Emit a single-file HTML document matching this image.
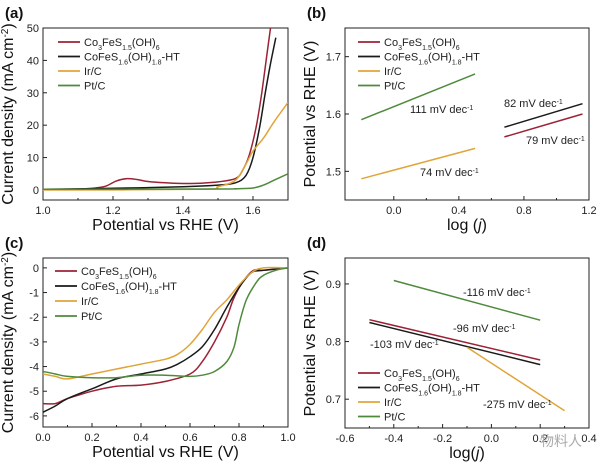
<!DOCTYPE html>
<html><head><meta charset="utf-8">
<style>
html,body{margin:0;padding:0;background:#fff;}
svg{display:block;font-family:"Liberation Sans","Noto Sans CJK SC",sans-serif;}
</style></head>
<body>
<svg id="fig" width="600" height="466" viewBox="0 0 600 466"></svg>
<script>
const seriesNames = ["Co3FeS1.5(OH)6","CoFeS1.6(OH)1.8-HT","Ir/C","Pt/C"];
const seriesColors = ["#9b2335","#1a1a1a","#e0a53a","#4f8a3c"];
// panel a: OER polarization
const aRedX=[1.0,1.1,1.15,1.18,1.21,1.24,1.27,1.3,1.35,1.4,1.45,1.5,1.55,1.57,1.59,1.61,1.625,1.64,1.65];
const aRedY=[0.2,0.3,0.6,1.2,2.8,3.5,3.2,2.6,2.2,2.0,2.1,2.5,3.5,6,11,20,30,42,50];
const aBlkX=[1.0,1.2,1.4,1.5,1.55,1.58,1.6,1.62,1.635,1.65,1.665];
const aBlkY=[0.2,0.5,1.0,1.5,2.2,4.5,10,20,30,39,47];
const aIrX=[1.0,1.45,1.5,1.55,1.58,1.6,1.63,1.66,1.7];
const aIrY=[0,0.2,1,3,8,12,16,21,27];
const aPtX=[1.0,1.5,1.55,1.6,1.63,1.66,1.7];
const aPtY=[0.2,0.3,0.4,0.6,1.5,3,5];
const aXTicks=[1.0,1.2,1.4,1.6];
const aYTicks=[0,10,20,30,40,50];
// panel b: OER Tafel
const bRedX=[0.68,1.16], bRedY=[1.56,1.60];
const bBlkX=[0.68,1.16], bBlkY=[1.577,1.618];
const bIrX=[-0.2,0.5], bIrY=[1.487,1.54];
const bPtX=[-0.2,0.5], bPtY=[1.59,1.67];
const bXTicks=[0.0,0.4,0.8,1.2];
const bYTicks=[1.5,1.6,1.7];
const bAnnot=["111 mV dec","82 mV dec","79 mV dec","74 mV dec"];
// panel c: ORR polarization
const cRedX=[0,0.05,0.1,0.2,0.3,0.4,0.5,0.6,0.65,0.7,0.75,0.78,0.82,0.86,0.9,1.0];
const cRedY=[-5.5,-5.5,-5.3,-5.0,-4.8,-4.75,-4.6,-4.3,-3.8,-3.0,-2.0,-1.2,-0.5,-0.1,-0.1,0];
const cBlkX=[0,0.05,0.1,0.2,0.3,0.4,0.5,0.55,0.6,0.65,0.7,0.75,0.8,0.85,0.9,1.0];
const cBlkY=[-5.85,-5.6,-5.3,-4.9,-4.5,-4.3,-4.1,-3.9,-3.6,-3.2,-2.5,-1.6,-0.8,-0.2,-0.1,0];
const cIrX=[0,0.05,0.1,0.2,0.3,0.4,0.5,0.55,0.6,0.65,0.7,0.75,0.8,0.85,0.9,1.0];
const cIrY=[-4.3,-4.4,-4.5,-4.3,-4.1,-3.9,-3.7,-3.5,-3.1,-2.5,-1.8,-1.3,-0.7,-0.2,0,0];
const cPtX=[0,0.05,0.1,0.2,0.3,0.4,0.5,0.6,0.65,0.7,0.75,0.78,0.8,0.83,0.87,0.9,0.95,1.0];
const cPtY=[-4.2,-4.3,-4.4,-4.45,-4.45,-4.35,-4.35,-4.4,-4.35,-4.2,-3.8,-3.2,-2.3,-1.3,-0.6,-0.3,-0.1,0];
const cXTicks=[0.0,0.2,0.4,0.6,0.8,1.0];
const cYTicks=[0,-1,-2,-3,-4,-5,-6];
// panel d: ORR Tafel
const dRedX=[-0.5,0.2], dRedY=[0.838,0.768];
const dBlkX=[-0.5,0.2], dBlkY=[0.833,0.760];
const dIrX=[-0.1,0.3], dIrY=[0.79,0.68];
const dPtX=[-0.4,0.2], dPtY=[0.906,0.837];
const dXTicks=[-0.6,-0.4,-0.2,0.0,0.2,0.4];
const dYTicks=[0.7,0.8,0.9];
const dAnnot=["-116 mV dec","-96 mV dec","-103 mV dec","-275 mV dec"];

const NS="http://www.w3.org/2000/svg";
const svg=document.getElementById('fig');
function mk(tag,attrs,parent,text){const e=document.createElementNS(NS,tag);for(const k in attrs)e.setAttribute(k,attrs[k]);if(text!==undefined)e.textContent=text;(parent||svg).appendChild(e);return e;}

function smoothPath(pts){
  if(pts.length<3) return pts.map((p,j)=>(j?'L':'M')+p[0].toFixed(1)+','+p[1].toFixed(1)).join(' ');
  let d='M'+pts[0][0].toFixed(1)+','+pts[0][1].toFixed(1);
  for(let i=0;i<pts.length-1;i++){
    const p0=pts[Math.max(0,i-1)],p1=pts[i],p2=pts[i+1],p3=pts[Math.min(pts.length-1,i+2)];
    const c1=[p1[0]+(p2[0]-p0[0])/6,p1[1]+(p2[1]-p0[1])/6];
    const c2=[p2[0]-(p3[0]-p1[0])/6,p2[1]-(p3[1]-p1[1])/6];
    d+=` C${c1[0].toFixed(1)},${c1[1].toFixed(1)} ${c2[0].toFixed(1)},${c2[1].toFixed(1)} ${p2[0].toFixed(1)},${p2[1].toFixed(1)}`;
  }
  return d;
}

function panel(id,box,xr,yr,xt,yt,xfmt,yfmt,xtitle,ytitle,series,label){
  const g=mk('g',{});
  
  
  const sx=v=>box.l+(v-xr[0])/(xr[1]-xr[0])*(box.r-box.l);
  const sy=v=>box.b-(v-yr[0])/(yr[1]-yr[0])*(box.b-box.t);
  const t=mk('text',{x:box.l-38,y:box.t-10,'font-size':15,'font-weight':'bold',fill:'#111'},g,label);
  
  
  const fr=mk('rect',{x:box.l,y:box.t,width:box.r-box.l,height:box.b-box.t,fill:'none',stroke:'#222','stroke-width':1},g);
  
  
  xt.forEach(v=>{const x=sx(v);
    mk('line',{x1:x,x2:x,y1:box.b,y2:box.b-4,stroke:'#222'},g);
    const tl=mk('text',{x:x,y:box.b+14,'font-size':11,'text-anchor':'middle',fill:'#222'},g,xfmt(v));
    
    
  });
  for(let i=0;i<xt.length-1;i++){const x=sx((xt[i]+xt[i+1])/2);mk('line',{x1:x,x2:x,y1:box.b,y2:box.b-2,stroke:'#222'},g);}
  yt.forEach(v=>{const y=sy(v);
    mk('line',{x1:box.l,x2:box.l+4,y1:y,y2:y,stroke:'#222'},g);
    const tl=mk('text',{x:box.l-4,y:y+4,'font-size':11,'text-anchor':'end',fill:'#222'},g,yfmt(v));
    
    
  });
  const xtt=mk('text',{x:(box.l+box.r)/2,y:box.b+30,'font-size':16,'text-anchor':'middle',fill:'#111'},g);
  xtt.innerHTML=xtitle;
  
  
  const cy=(box.t+box.b)/2;
  const ytt=mk('text',{x:0,y:0,'font-size':16,'text-anchor':'middle',fill:'#111',transform:`translate(${box.l-30},${cy}) rotate(-90)`},g);
  ytt.innerHTML=ytitle;
  
  
  const cp=mk('clipPath',{id:'clip'+id},g);
  mk('rect',{x:box.l,y:box.t,width:box.r-box.l,height:box.b-box.t},cp);
  series.forEach((s,i)=>{
    const pts=s[0].map((x,j)=>[sx(x),sy(s[1][j])]);
    const p=mk('path',{d:smoothPath(pts),fill:'none',stroke:seriesColors[i],'stroke-width':1.5,'clip-path':`url(#clip${id})`,'stroke-linejoin':'round'},g);
    
    
  });
  return {g,sx,sy};
}
function legend(g,x,y,dy,id){
  const labels=['Co<tspan baseline-shift="sub" font-size="7">3</tspan>FeS<tspan baseline-shift="sub" font-size="7">1.5</tspan>(OH)<tspan baseline-shift="sub" font-size="7">6</tspan>',
   'CoFeS<tspan baseline-shift="sub" font-size="7">1.6</tspan>(OH)<tspan baseline-shift="sub" font-size="7">1.8</tspan>-HT','Ir/C','Pt/C'];
  labels.forEach((l,i)=>{
    const yy=y+i*dy;
    const e=mk('g',{},g);
    
    
    mk('line',{x1:x,x2:x+22,y1:yy,y2:yy,stroke:seriesColors[i],'stroke-width':1.8},e);
    const t=mk('text',{x:x+26,y:yy+4,'font-size':11,fill:'#222'},e);t.innerHTML=l;
  });
}
function annot(g,x,y,txt,name){
  const t=mk('text',{x:x,y:y,'font-size':11,fill:'#222'},g);
  t.innerHTML=txt+'<tspan baseline-shift="super" font-size="7">-1</tspan>';
  
  
}
const f1=v=>v.toFixed(1), f0=v=>String(v);
const Ay='Current density (mA cm<tspan baseline-shift="super" font-size="10">-2</tspan>)';
const pa=panel('a',{l:43,r:288,t:28,b:200},[1.0,1.7],[-3.1,50],aXTicks,aYTicks,f1,f0,'Potential vs RHE (V)',Ay,
  [[aRedX,aRedY],[aBlkX,aBlkY],[aIrX,aIrY],[aPtX,aPtY]],'(a)');
legend(pa.g,58,42,14.5,'a');
const pb=panel('b',{l:345,r:589,t:28,b:200},[-0.3,1.2],[1.45,1.75],bXTicks,bYTicks,f1,f1,'log (<tspan font-style="italic">j</tspan>)','Potential vs RHE (V)',
  [[bRedX,bRedY],[bBlkX,bBlkY],[bIrX,bIrY],[bPtX,bPtY]],'(b)');
legend(pb.g,358,42,14.5,'b');
annot(pb.g,410,113,bAnnot[0],'slope-label-pt');
annot(pb.g,504,107,bAnnot[1],'slope-label-ht');
annot(pb.g,526,144,bAnnot[2],'slope-label-co3');
annot(pb.g,420,176,bAnnot[3],'slope-label-ir');
const pc=panel('c',{l:43,r:288,t:258,b:427},[0,1.0],[-6.45,0.4],cXTicks,cYTicks,f1,f0,'Potential vs RHE (V)',Ay,
  [[cRedX,cRedY],[cBlkX,cBlkY],[cIrX,cIrY],[cPtX,cPtY]],'(c)');
legend(pc.g,55,271,15,'c');
const pd=panel('d',{l:345,r:589,t:258,b:428},[-0.6,0.4],[0.65,0.945],dXTicks,dYTicks,f1,f1,'log(<tspan font-style="italic">j</tspan>)','Potential vs RHE (V)',
  [[dRedX,dRedY],[dBlkX,dBlkY],[dIrX,dIrY],[dPtX,dPtY]],'(d)');
legend(pd.g,358,373,14.5,'d');
annot(pd.g,463,296,dAnnot[0],'slope-label-pt');
annot(pd.g,453,332,dAnnot[1],'slope-label-co3');
annot(pd.g,370,348,dAnnot[2],'slope-label-ht');
annot(pd.g,483,408,dAnnot[3],'slope-label-ir');
const wm=mk('text',{x:540,y:446,'font-size':14,fill:'#aaa'},svg,'物料人');


</script>
</body></html>
